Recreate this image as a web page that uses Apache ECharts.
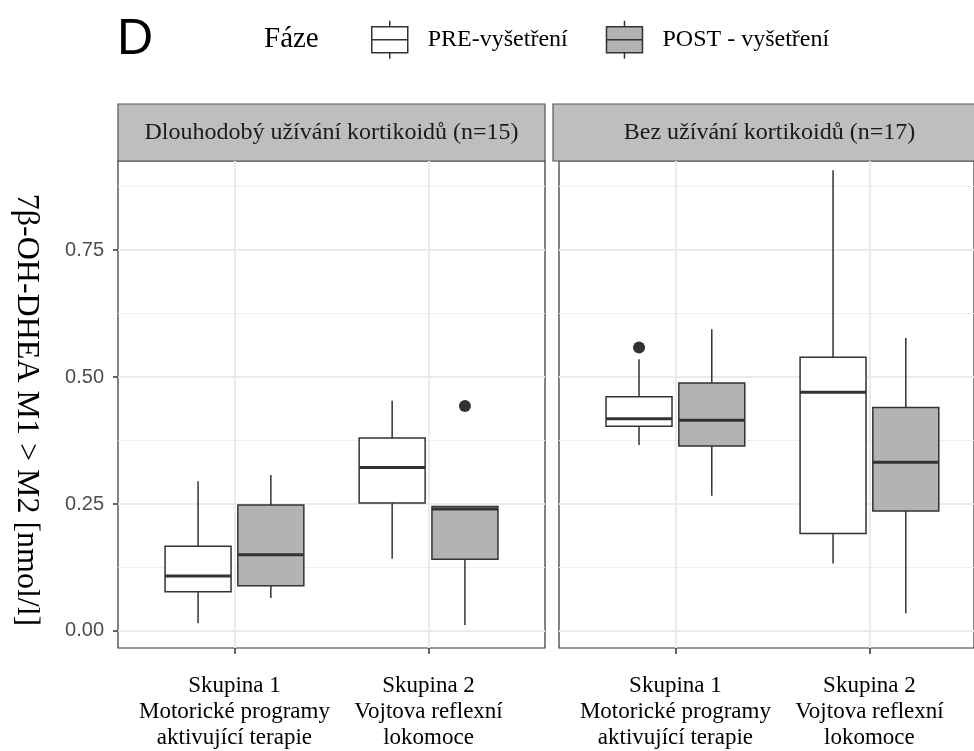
<!DOCTYPE html>
<html>
<head>
<meta charset="utf-8">
<script src="https://cdn.jsdelivr.net/npm/echarts@6/dist/echarts.min.js"></script>
<style>
  html, body { margin: 0; padding: 0; background: #fff; }
  #chart { width: 974px; height: 751px; }
</style>
</head>
<body>
<div id="chart"></div>
<script>
// data
const groups = [1, 2];
const categoryLabels = [
  'Skupina 1\nMotorické programy\naktivující terapie',
  'Skupina 2\nVojtova reflexní\nlokomoce'
];
const facets = ['Dlouhodobý užívání kortikoidů (n=15)', 'Bez užívání kortikoidů (n=17)'];
const phases = ['PRE-vyšetření', 'POST - vyšetření'];
const yTicks = [0, 0.25, 0.5, 0.75];
const yMinorTicks = [0.125, 0.375, 0.625, 0.875];

// [min, q1, median, q3, max] per group
const longPre = [[0.015, 0.077, 0.108, 0.167, 0.295], [0.142, 0.252, 0.322, 0.380, 0.453]];
const longPost = [[0.065, 0.089, 0.150, 0.248, 0.307], [0.012, 0.141, 0.240, 0.245, 0.245]];
const nonePre = [[0.366, 0.403, 0.418, 0.461, 0.535], [0.133, 0.192, 0.470, 0.539, 0.907]];
const nonePost = [[0.266, 0.364, 0.415, 0.488, 0.594], [0.035, 0.236, 0.332, 0.440, 0.577]];
// outliers: [group, value]
const longPostOutliers = [[2, 0.443]];
const nonePreOutliers = [[1, 0.558]];

const serif = 'Liberation Serif';
const sans = 'Liberation Sans';
const edge = '#333333';
const fills = ['#ffffff', '#b3b3b3'];
const dodge = 0.1875;
const boxWidth = 0.34;

let myChart = echarts.init(document.getElementById('chart'));

function rows(stats) {
  return groups.map((g, i) => [g].concat(stats[i]));
}

function renderBox(offset, fill) {
  return function (params, api) {
    const x = api.value(0) + offset;
    const pMin = api.coord([x, api.value(1)]);
    const pQ1 = api.coord([x, api.value(2)]);
    const pMed = api.coord([x, api.value(3)]);
    const pQ3 = api.coord([x, api.value(4)]);
    const pMax = api.coord([x, api.value(5)]);
    const half = api.size([boxWidth, 0])[0] / 2;
    const line = { stroke: edge, lineWidth: 1.5 };
    return {
      type: 'group',
      children: [
        { type: 'line', shape: { x1: pQ3[0], y1: pQ3[1], x2: pMax[0], y2: pMax[1] }, style: line },
        { type: 'line', shape: { x1: pMin[0], y1: pMin[1], x2: pQ1[0], y2: pQ1[1] }, style: line },
        {
          type: 'rect',
          shape: { x: pQ3[0] - half, y: pQ3[1], width: half * 2, height: pQ1[1] - pQ3[1] },
          style: { fill: fill, stroke: edge, lineWidth: 1.5 }
        },
        {
          type: 'line',
          shape: { x1: pMed[0] - half, y1: pMed[1], x2: pMed[0] + half, y2: pMed[1] },
          style: { stroke: edge, lineWidth: 3 }
        }
      ]
    };
  };
}

function renderOutlier(offset) {
  return function (params, api) {
    const p = api.coord([api.value(0) + offset, api.value(1)]);
    return { type: 'circle', shape: { cx: p[0], cy: p[1], r: 6 }, style: { fill: edge } };
  };
}

function boxSeries(name, idx, stats, offset, fill) {
  return {
    name: name,
    type: 'custom',
    xAxisIndex: idx,
    yAxisIndex: idx * 2,
    itemStyle: { color: fill, borderColor: edge },
    encode: { x: 0, y: [1, 2, 3, 4, 5] },
    renderItem: renderBox(offset, fill),
    data: rows(stats),
    z: 3
  };
}

function outlierSeries(name, idx, pts, offset) {
  return {
    name: name,
    type: 'custom',
    xAxisIndex: idx,
    yAxisIndex: idx * 2,
    encode: { x: 0, y: 1 },
    renderItem: renderOutlier(offset),
    data: pts,
    z: 4
  };
}

// right panel is cut by the canvas edge, so its x range ends early
const panels = [
  { left: 118, top: 161, width: 427, height: 487, xMax: 2.6 },
  { left: 559, top: 161, width: 415, height: 487, xMax: 2.539 }
];

const xAxes = panels.map((p, i) => ({
  type: 'value',
  gridIndex: i,
  min: 0.4,
  max: p.xMax,
  axisLine: { show: false, onZero: false },
  axisTick: { customValues: groups, length: 6, lineStyle: { color: edge, width: 1.5 } },
  axisLabel: {
    customValues: groups,
    formatter: v => categoryLabels[groups.indexOf(v)] || '',
    fontFamily: serif,
    fontSize: 23,
    lineHeight: 26,
    color: '#000',
    margin: 25
  },
  splitLine: { show: true, lineStyle: { color: '#ebebeb', width: 2 } }
}));

const yAxes = [];
panels.forEach((p, i) => {
  yAxes.push({
    type: 'value',
    gridIndex: i,
    min: -0.0335,
    max: 0.9252,
    axisLine: { show: false, onZero: false },
    axisTick: { show: i === 0, customValues: yTicks, length: 5, lineStyle: { color: edge, width: 1.5 } },
    axisLabel: {
      show: i === 0,
      customValues: yTicks,
      formatter: v => v.toFixed(2),
      fontFamily: sans,
      fontSize: 20,
      color: '#4d4d4d',
      margin: 14
    },
    splitLine: { show: true, lineStyle: { color: '#ebebeb', width: 2 } }
  });
  yAxes.push({
    type: 'value',
    gridIndex: i,
    min: -0.0335,
    max: 0.9252,
    axisLine: { show: false, onZero: false },
    axisTick: { show: false, customValues: yMinorTicks },
    axisLabel: { show: false },
    splitLine: { show: true, lineStyle: { color: '#efefef', width: 1 } }
  });
});

const legendIcon = 'path://M0,6H36V32H0Z M0,19H36 M18,0V6 M18,32V38';

let option = {
  backgroundColor: '#fff',
  animation: false,
  grid: panels.map(p => ({
    left: p.left, top: p.top, width: p.width, height: p.height,
    show: true, backgroundColor: '#fff', borderColor: edge, borderWidth: 1.2
  })),
  xAxis: xAxes,
  yAxis: yAxes,
  legend: {
    left: 371,
    top: 20,
    padding: 0,
    itemWidth: 36,
    itemHeight: 38,
    itemGap: 38,
    selectedMode: false,
    textStyle: { fontFamily: serif, fontSize: 24, color: '#000', padding: [0, 0, 0, 15] },
    data: phases.map((name, i) => ({
      name: name,
      icon: legendIcon,
      itemStyle: { color: fills[i], borderColor: edge, borderWidth: 1.5 }
    }))
  },
  graphic: [
    {
      type: 'text', left: 117, top: 15,
      style: { text: 'D', font: '50px "Liberation Sans"', fill: '#000' }
    },
    {
      type: 'text', x: 264, y: 39,
      style: { text: 'Fáze', font: '29px "Liberation Serif"', fill: '#000', textVerticalAlign: 'middle' }
    },
    {
      type: 'text', x: 26, y: 410, rotation: -Math.PI / 2,
      style: {
        text: '7β-OH-DHEA M1 > M2 [nmol/l]', font: '32px "Liberation Serif"', fill: '#000',
        textAlign: 'center', textVerticalAlign: 'middle'
      }
    },
    {
      type: 'rect', shape: { x: 118, y: 104, width: 427, height: 57 },
      style: { fill: '#bebebe', stroke: '#555', lineWidth: 1.2 }
    },
    {
      type: 'rect', shape: { x: 553, y: 104, width: 433, height: 57 },
      style: { fill: '#bebebe', stroke: '#555', lineWidth: 1.2 }
    },
    {
      type: 'text', x: 331.5, y: 132.5,
      style: { text: facets[0], font: '24px "Liberation Serif"', fill: '#1a1a1a', textAlign: 'center', textVerticalAlign: 'middle' }
    },
    {
      type: 'text', x: 769.5, y: 132.5,
      style: { text: facets[1], font: '24px "Liberation Serif"', fill: '#1a1a1a', textAlign: 'center', textVerticalAlign: 'middle' }
    }
  ],
  series: [
    boxSeries(phases[0], 0, longPre, -dodge, fills[0]),
    boxSeries(phases[1], 0, longPost, dodge, fills[1]),
    boxSeries(phases[0], 1, nonePre, -dodge, fills[0]),
    boxSeries(phases[1], 1, nonePost, dodge, fills[1]),
    outlierSeries(phases[1], 0, longPostOutliers, dodge),
    outlierSeries(phases[0], 1, nonePreOutliers, -dodge)
  ]
};
myChart.setOption(option);
</script>
</body>
</html>
